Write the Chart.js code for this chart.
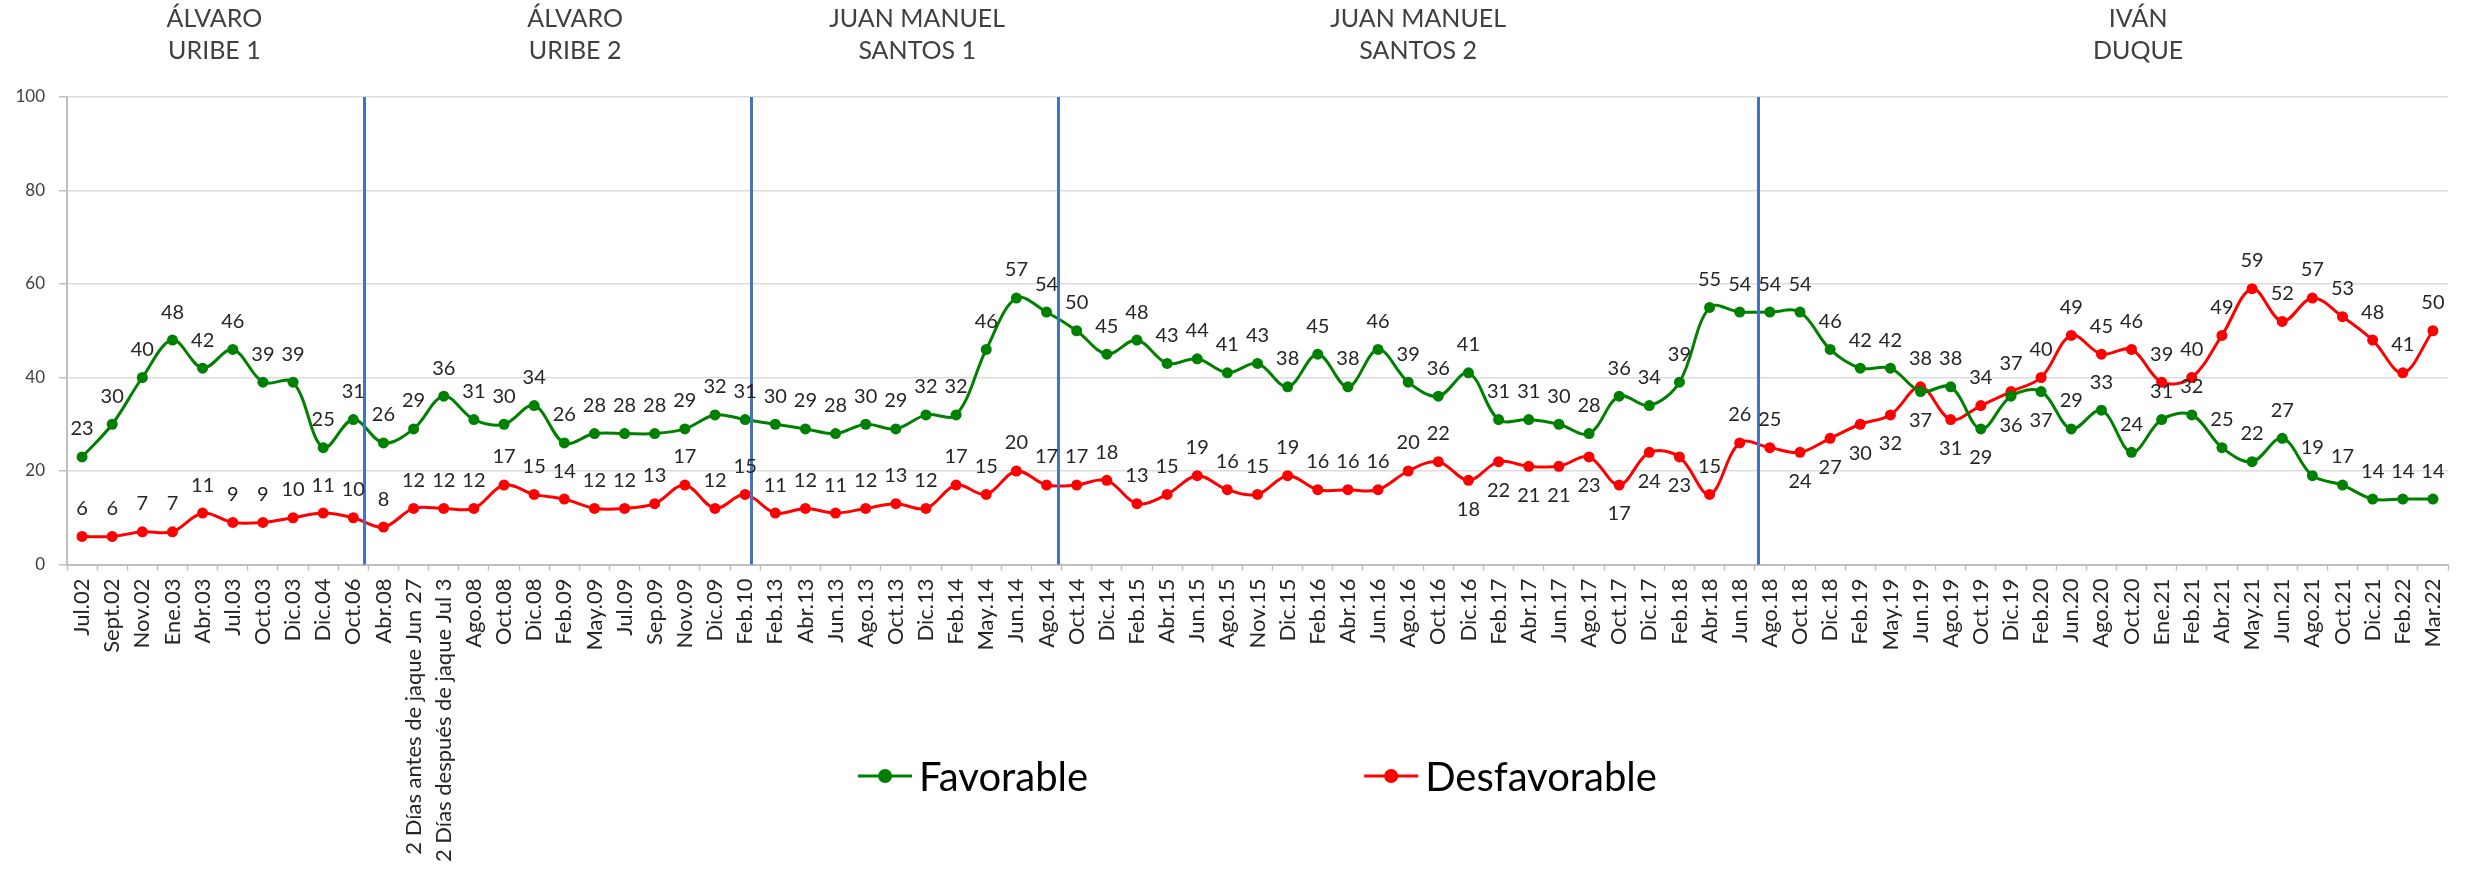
<!DOCTYPE html>
<html>
<head>
<meta charset="utf-8">
<script src="https://cdn.jsdelivr.net/npm/chart.js@4/dist/chart.umd.min.js"></script>
<style>
    body { margin: 0; background: #fff; }
    canvas { display: block; }
</style>
</head>
<body>
<canvas id="imagen" width="2473" height="872"></canvas>
<script>
const categories = ['Jul.02', 'Sept.02', 'Nov.02', 'Ene.03', 'Abr.03', 'Jul.03', 'Oct.03', 'Dic.03', 'Dic.04', 'Oct.06',
    'Abr.08', '2 Días antes de jaque Jun 27', '2 Días después de jaque Jul 3', 'Ago.08', 'Oct.08', 'Dic.08', 'Feb.09', 'May.09', 'Jul.09', 'Sep.09',
    'Nov.09', 'Dic.09', 'Feb.10', 'Feb.13', 'Abr.13', 'Jun.13', 'Ago.13', 'Oct.13', 'Dic.13', 'Feb.14',
    'May.14', 'Jun.14', 'Ago.14', 'Oct.14', 'Dic.14', 'Feb.15', 'Abr.15', 'Jun.15', 'Ago.15', 'Nov.15',
    'Dic.15', 'Feb.16', 'Abr.16', 'Jun.16', 'Ago.16', 'Oct.16', 'Dic.16', 'Feb.17', 'Abr.17', 'Jun.17',
    'Ago.17', 'Oct.17', 'Dic.17', 'Feb.18', 'Abr.18', 'Jun.18', 'Ago.18', 'Oct.18', 'Dic.18', 'Feb.19',
    'May.19', 'Jun.19', 'Ago.19', 'Oct.19', 'Dic.19', 'Feb.20', 'Jun.20', 'Ago.20', 'Oct.20', 'Ene.21',
    'Feb.21', 'Abr.21', 'May.21', 'Jun.21', 'Ago.21', 'Oct.21', 'Dic.21', 'Feb.22', 'Mar.22'];

const favorable = [23, 30, 40, 48, 42, 46, 39, 39, 25, 31,
    26, 29, 36, 31, 30, 34, 26, 28, 28, 28,
    29, 32, 31, 30, 29, 28, 30, 29, 32, 32,
    46, 57, 54, 50, 45, 48, 43, 44, 41, 43,
    38, 45, 38, 46, 39, 36, 41, 31, 31, 30,
    28, 36, 34, 39, 55, 54, 54, 54, 46, 42,
    42, 37, 38, 29, 36, 37, 29, 33, 24, 31,
    32, 25, 22, 27, 19, 17, 14, 14, 14];

const desfavorable = [6, 6, 7, 7, 11, 9, 9, 10, 11, 10,
    8, 12, 12, 12, 17, 15, 14, 12, 12, 13,
    17, 12, 15, 11, 12, 11, 12, 13, 12, 17,
    15, 20, 17, 17, 18, 13, 15, 19, 16, 15,
    19, 16, 16, 16, 20, 22, 18, 22, 21, 21,
    23, 17, 24, 23, 15, 26, 25, 24, 27, 30,
    32, 38, 31, 34, 37, 40, 49, 45, 46, 39,
    40, 49, 59, 52, 57, 53, 48, 41, 50];

const yTicks = [0, 20, 40, 60, 80, 100];

const periods = [['ÁLVARO', 'URIBE 1'], ['ÁLVARO', 'URIBE 2'], ['JUAN MANUEL', 'SANTOS 1'], ['JUAN MANUEL', 'SANTOS 2'], ['IVÁN', 'DUQUE']];

// where things sit, in category units (index of the point)
const periodCenters = [4.39, 16.36, 27.71, 44.33, 68.22];
const periodBreaks = [9.36, 22.18, 32.37, 55.59];

// labels that Excel put under the point instead of above
const labelsBelow = [
    [61, 63, 64, 65],
    [46, 47, 48, 49, 50, 51, 52, 53, 57, 58, 59, 60, 62]
];

const textColor = '#262626';

const overlays = {
    id: 'overlays',
    afterDatasetsDraw(chart) {
        const ctx = chart.ctx;
        const area = chart.chartArea;
        const x = chart.scales.x;
        ctx.save();

        // vertical lines between presidencies
        ctx.strokeStyle = '#4472C4';
        ctx.lineWidth = 3;
        periodBreaks.forEach(b => {
            const px = Math.round(x.getPixelForValue(b)) + 0.5;
            ctx.beginPath();
            ctx.moveTo(px, area.top);
            ctx.lineTo(px, area.bottom);
            ctx.stroke();
        });

        // presidency names on top
        ctx.fillStyle = '#404040';
        ctx.font = '25px Lato';
        ctx.textAlign = 'center';
        ctx.textBaseline = 'middle';
        periods.forEach((p, i) => {
            const px = x.getPixelForValue(periodCenters[i]);
            ctx.fillText(p[0], px, area.top - 78);
            ctx.fillText(p[1], px, area.top - 46);
        });

        // value labels
        ctx.fillStyle = textColor;
        ctx.font = '20px Lato';
        chart.data.datasets.forEach((ds, d) => {
            const meta = chart.getDatasetMeta(d);
            meta.data.forEach((pt, i) => {
                const below = labelsBelow[d].includes(i);
                ctx.fillText(Math.round(ds.data[i]), pt.x, below ? pt.y + 29 : pt.y - 28);
            });
        });
        ctx.restore();
    },
    afterDraw(chart) {
        // legend drawn by hand so it can sit over the long axis labels
        const ctx = chart.ctx;
        const area = chart.chartArea;
        const y = 776;
        const lineLen = 54;
        const gap = 276;
        ctx.save();
        ctx.font = '40px Lato';
        ctx.textBaseline = 'middle';
        ctx.textAlign = 'left';
        const widths = chart.data.datasets.map(ds => lineLen + 7 + ctx.measureText(ds.label).width);
        let px = (area.left + area.right) / 2 - (widths[0] + widths[1] + gap) / 2;
        chart.data.datasets.forEach((ds, d) => {
            ctx.strokeStyle = ds.borderColor;
            ctx.lineWidth = 3;
            ctx.beginPath();
            ctx.moveTo(px, y);
            ctx.lineTo(px + lineLen, y);
            ctx.stroke();
            ctx.fillStyle = ds.borderColor;
            ctx.beginPath();
            ctx.arc(px + lineLen / 2, y, 7, 0, Math.PI * 2);
            ctx.fill();
            ctx.fillStyle = '#000';
            ctx.fillText(ds.label, px + lineLen + 7, y + 2);
            px += widths[d] + gap;
        });
        ctx.restore();
    }
};

const makeChart = () => {
    const ctx = document.getElementById('imagen').getContext('2d');
    new Chart(ctx, {
        type: 'line',
        data: {
            labels: categories,
            datasets: [{
                label: 'Favorable',
                data: favorable,
                borderColor: '#008000',
                backgroundColor: '#008000',
                borderWidth: 3,
                pointRadius: 5.5,
                pointBorderWidth: 0,
                tension: 0.35
            }, {
                label: 'Desfavorable',
                data: desfavorable,
                borderColor: '#FF0000',
                backgroundColor: '#FF0000',
                borderWidth: 3,
                pointRadius: 5.5,
                pointBorderWidth: 0,
                tension: 0.35
            }]
        },
        options: {
            responsive: false,
            animation: false,
            devicePixelRatio: 1,
            layout: {
                padding: { top: 97, right: 25, bottom: 0, left: 0 }
            },
            plugins: {
                legend: { display: false },
                tooltip: { enabled: false }
            },
            scales: {
                x: {
                    offset: true,
                    afterFit: scale => { scale.height = 307.5; },
                    grid: {
                        offset: true,
                        drawOnChartArea: false,
                        tickLength: 6,
                        tickColor: '#bfbfbf',
                        tickWidth: 1.5
                    },
                    border: { color: '#bfbfbf', width: 2 },
                    ticks: {
                        autoSkip: false,
                        minRotation: 90,
                        maxRotation: 90,
                        padding: 8,
                        color: textColor,
                        font: { family: 'Lato', size: 22 }
                    }
                },
                y: {
                    min: 0,
                    max: 100,
                    afterFit: scale => { scale.width = 67; },
                    afterBuildTicks: scale => { scale.ticks = yTicks.map(v => ({ value: v })); },
                    grid: {
                        color: '#dcdcdc',
                        lineWidth: 1.5,
                        tickLength: 8,
                        tickColor: '#bfbfbf'
                    },
                    border: { color: '#bfbfbf', width: 2 },
                    ticks: {
                        padding: 14,
                        color: '#404040',
                        font: { family: 'Lato', size: 17 }
                    }
                }
            }
        },
        plugins: [overlays]
    });
};

document.fonts.load('20px Lato').then(makeChart, makeChart);
</script>
</body>
</html>
